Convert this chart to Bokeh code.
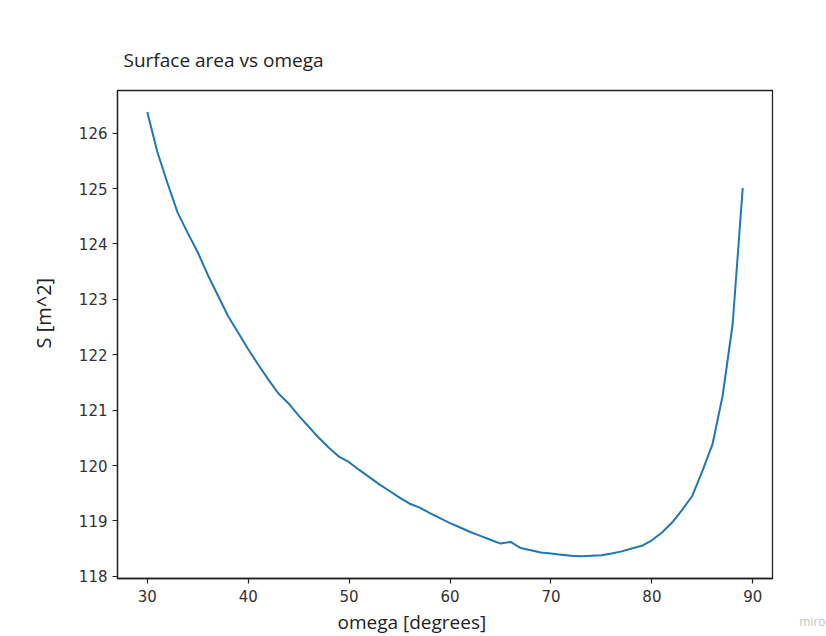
from bokeh.plotting import figure
from bokeh.models import FixedTicker, Range1d, Title
from bokeh.embed import file_html
from bokeh.resources import INLINE

omega = list(range(30, 90))
surface = [126.38, 125.66, 125.10, 124.57, 124.20, 123.85, 123.44, 123.07, 122.70, 122.40,
           122.10, 121.82, 121.55, 121.30, 121.12, 120.90, 120.70, 120.50, 120.32, 120.16,
           120.06, 119.92, 119.79, 119.66, 119.54, 119.42, 119.31, 119.24, 119.14, 119.05,
           118.96, 118.88, 118.80, 118.73, 118.66, 118.59, 118.62, 118.51, 118.47, 118.43,
           118.41, 118.39, 118.37, 118.36, 118.37, 118.38, 118.41, 118.45, 118.50, 118.55,
           118.65, 118.79, 118.97, 119.20, 119.45, 119.90, 120.38, 121.25, 122.55, 125.01]
x_ticks = [30, 40, 50, 60, 70, 80, 90]
y_ticks = [118, 119, 120, 121, 122, 123, 124, 125, 126]

p = figure(width=826, height=636, output_backend="svg", toolbar_location=None,
           x_range=Range1d(27.05, 91.95), y_range=Range1d(117.96, 126.77),
           min_border_left=117, min_border_right=54, min_border_top=90, min_border_bottom=58,
           title="Surface area vs omega")

p.title.text_font = "Open Sans"
p.title.text_font_size = "19px"
p.title.text_font_style = "normal"
p.title.text_color = "#222222"
p.title.offset = 6
p.title.standoff = 35

p.line(omega, surface, line_color="#1f77b4", line_width=2)

p.outline_line_color = "#222222"
p.outline_line_width = 1.3
p.outline_line_alpha = 1
p.xgrid.visible = False
p.ygrid.visible = False
p.background_fill_color = "white"
p.border_fill_color = "white"

for ax in (p.xaxis[0], p.yaxis[0]):
    ax.axis_line_color = "#222222"
    ax.axis_line_width = 1.3
    ax.major_tick_line_color = "#222222"
    ax.major_tick_line_width = 1.2
    ax.major_tick_out = 5
    ax.major_tick_in = 0
    ax.minor_tick_line_color = None
    ax.major_label_text_font = "DejaVu Sans"
    ax.major_label_text_font_size = "15px"
    ax.major_label_text_color = "#333333"

p.xaxis[0].ticker = FixedTicker(ticks=x_ticks)
p.yaxis[0].ticker = FixedTicker(ticks=y_ticks)
p.xaxis[0].major_label_standoff = 6
p.yaxis[0].major_label_standoff = 5

# axis labels as side-panel titles, offset like in the reference
xlab = Title(text="omega [degrees]", align="left", offset=220, standoff=4,
             text_font="Open Sans", text_font_size="19px", text_font_style="normal",
             text_color="#222222")
p.add_layout(xlab, "below")
wm = Title(text="miro", align="right", offset=-53, standoff=-48, vertical_align="top",
           text_font="Open Sans", text_font_size="12px", text_font_style="normal",
           text_color="#c4c4c4")
p.add_layout(wm, "below")
ylab = Title(text="S [m^2]", align="left", offset=230, standoff=38,
             text_font="Open Sans", text_font_size="20px", text_font_style="normal",
             text_color="#222222")
p.add_layout(ylab, "left")

open("out.html", "w").write(file_html(p, INLINE))
